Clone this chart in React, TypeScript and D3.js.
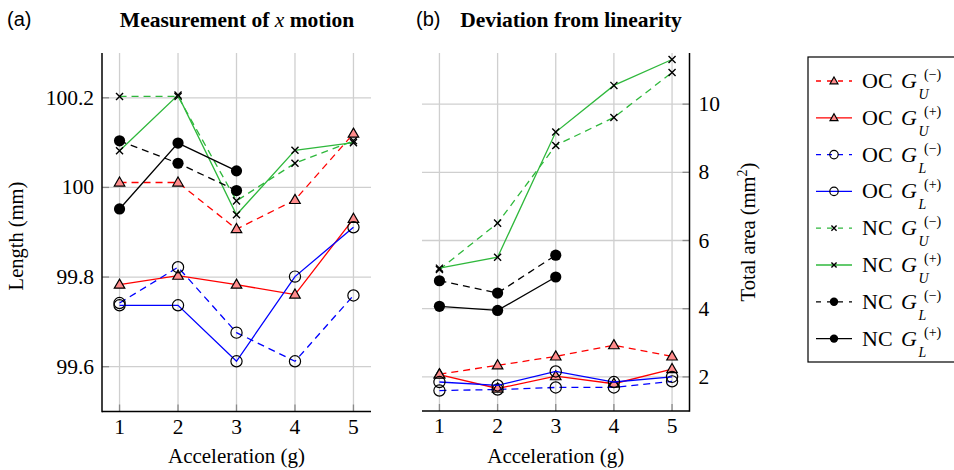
import React from "react";
import * as d3 from "d3";

const accel = [1, 2, 3, 4, 5];
const xTicks = [1, 2, 3, 4, 5];
const leftYTicks = [99.6, 99.8, 100, 100.2];
const rightYTicks = [2, 4, 6, 8, 10];

// Panel (a): Length (mm)
const aOCGUm = [100.011, 100.011, 99.907, 99.972, 100.12];
const aOCGUp = [99.783, 99.803, 99.783, 99.761, 99.93];
const aOCGLm = [99.742, 99.822, 99.676, 99.612, 99.759];
const aOCGLp = [99.737, 99.737, 99.612, 99.801, 99.911];
const aNCGUm = [100.203, 100.203, 99.97, 100.054, 100.104];
const aNCGUp = [100.082, 100.206, 99.939, 100.083, 100.1];
const aNCGLm = [100.104, 100.054, 99.993, null, null];
const aNCGLp = [99.952, 100.099, 100.037, null, null];

// Panel (b): Total area (mm^2)
const bOCGUm = [2.08, 2.34, 2.6, 2.93, 2.6];
const bOCGUp = [2.07, 1.66, 2.02, 1.8, 2.23];
const bOCGLm = [1.6, 1.63, 1.69, 1.69, 1.87];
const bOCGLp = [1.85, 1.75, 2.16, 1.85, 2.0];
const bNCGUm = [5.15, 6.51, 8.79, 9.61, 10.93];
const bNCGUp = [5.19, 5.51, 9.18, 10.55, 11.31];
const bNCGLm = [4.82, 4.46, 5.57, null, null];
const bNCGLp = [4.07, 3.95, 4.93, null, null];

const GREEN = "#2fb83c";
const series = [
  { group: "OC", sub: "U", sup: "(\u2212)", color: "#ff0000", dashed: true, marker: "tri", a: aOCGUm, b: bOCGUm },
  { group: "OC", sub: "U", sup: "(+)", color: "#ff0000", dashed: false, marker: "tri", a: aOCGUp, b: bOCGUp },
  { group: "OC", sub: "L", sup: "(\u2212)", color: "#0000ff", dashed: true, marker: "circ", a: aOCGLm, b: bOCGLm },
  { group: "OC", sub: "L", sup: "(+)", color: "#0000ff", dashed: false, marker: "circ", a: aOCGLp, b: bOCGLp },
  { group: "NC", sub: "U", sup: "(\u2212)", color: GREEN, dashed: true, marker: "x", a: aNCGUm, b: bNCGUm },
  { group: "NC", sub: "U", sup: "(+)", color: GREEN, dashed: false, marker: "x", a: aNCGUp, b: bNCGUp },
  { group: "NC", sub: "L", sup: "(\u2212)", color: "#000000", dashed: true, marker: "dot", a: aNCGLm, b: bNCGLm },
  { group: "NC", sub: "L", sup: "(+)", color: "#000000", dashed: false, marker: "dot", a: aNCGLp, b: bNCGLp },
];

const SERIF = "'Liberation Serif', 'Times New Roman', serif";
const SANS = "'Liberation Sans', Arial, sans-serif";
const GRID = "#cfcfcf";
const TICK = "#8a8a8a";
const DASH = "7,5";

function Marker({ type, x, y, scale = 1 }: { type: string; x: number; y: number; scale?: number }) {
  if (type === "tri") {
    const p = d3.symbol(d3.symbolTriangle, 48 * scale * scale)();
    return <path d={p || ""} transform={`translate(${x},${y + 0.5})`} fill="#ff8c8c" stroke="#000" strokeWidth={1.2} />;
  }
  if (type === "circ") {
    return <circle cx={x} cy={y} r={5.6 * scale} fill="none" stroke="#000" strokeWidth={1.2} />;
  }
  if (type === "x") {
    const p = d3.symbol(d3.symbolX, 34 * scale * scale)();
    return <path d={p || ""} transform={`translate(${x},${y})`} fill="none" stroke="#000" strokeWidth={1.4} />;
  }
  return <circle cx={x} cy={y} r={5.6 * scale} fill="#000" />;
}

function Panel({ xs, ys, key2, yTicks, side }: any) {
  const [x0, x1] = xs.range();
  const [y0, y1] = ys.range(); // y0 bottom, y1 top
  const line = d3
    .line<any>()
    .defined((d: any) => d[1] != null)
    .x((d: any) => xs(d[0]))
    .y((d: any) => ys(d[1]));
  const axisX = side === "left" ? x0 : x1;
  const tickDir = side === "left" ? 1 : -1;
  return (
    <g>
      {xTicks.map((t) => (
        <line key={"gx" + t} x1={xs(t)} x2={xs(t)} y1={y0} y2={y1} stroke={GRID} strokeWidth={1.3} />
      ))}
      {yTicks.map((t: number) => (
        <line key={"gy" + t} x1={x0} x2={x1} y1={ys(t)} y2={ys(t)} stroke={GRID} strokeWidth={1.3} />
      ))}
      {xTicks.map((t) => (
        <line key={"tx" + t} x1={xs(t)} x2={xs(t)} y1={y0} y2={y0 - 7} stroke={TICK} strokeWidth={1.3} />
      ))}
      {yTicks.map((t: number) => (
        <line key={"ty" + t} x1={axisX} x2={axisX + tickDir * 7} y1={ys(t)} y2={ys(t)} stroke={TICK} strokeWidth={1.3} />
      ))}
      {series.map((s, i) => {
        const vals = (s as any)[key2] as (number | null)[];
        const pts = accel.map((a, j) => [a, vals[j]]);
        return (
          <g key={"s" + i}>
            <path d={line(pts as any) || ""} fill="none" stroke={s.color} strokeWidth={1.3} strokeDasharray={s.dashed ? DASH : undefined} />
            {pts
              .filter((p) => p[1] != null)
              .map((p, j) => (
                <Marker key={j} type={s.marker} x={xs(p[0] as number)} y={ys(p[1] as number)} />
              ))}
          </g>
        );
      })}
      <line x1={x0} x2={x1} y1={y0} y2={y0} stroke="#000" strokeWidth={1.5} />
      <line x1={axisX} x2={axisX} y1={y0 + 0.75} y2={y1} stroke="#000" strokeWidth={1.5} />
      {xTicks.map((t) => (
        <text key={"lx" + t} x={xs(t)} y={y0 + 22} textAnchor="middle" fontFamily={SERIF} fontSize={21.5}>
          {t}
        </text>
      ))}
      {yTicks.map((t: number) => (
        <text
          key={"ly" + t}
          x={side === "left" ? axisX - 8 : axisX + 9}
          y={ys(t) + 7}
          textAnchor={side === "left" ? "end" : "start"}
          fontFamily={SERIF}
          fontSize={21.5}
        >
          {side === "left" ? d3.format(".1f")(t).replace(/\.0$/, "") : t}
        </text>
      ))}
      <text x={(x0 + x1) / 2} y={463} textAnchor="middle" fontFamily={SERIF} fontSize={21}>
        Acceleration (g)
      </text>
    </g>
  );
}

export default function App() {
  const xa = d3.scaleLinear().domain([0.7, 5.3]).range([102, 371]);
  const ya = d3.scaleLinear().domain([99.5, 100.3]).range([411.5, 53]);
  const xb = d3.scaleLinear().domain([0.7, 5.3]).range([422, 689.5]);
  const yb = d3.scaleLinear().domain([1, 11.5]).range([411, 53]);

  const legX = 808;
  const legY0 = 81;
  const legStep = 36.8;

  return (
    <svg width={954} height={470} style={{ position: "absolute", left: 0, top: 0 }}>
      <rect x={0} y={0} width={954} height={470} fill="#fff" />
      <text x={7} y={26} fontFamily={SANS} fontSize={20}>(a)</text>
      <text x={237} y={27} textAnchor="middle" fontFamily={SERIF} fontSize={21.5} fontWeight="bold">
        Measurement of <tspan fontStyle="italic" fontWeight="normal">x</tspan> motion
      </text>
      <text x={416} y={26} fontFamily={SANS} fontSize={20}>(b)</text>
      <text x={571} y={27} textAnchor="middle" fontFamily={SERIF} fontSize={21.5} fontWeight="bold">
        Deviation from linearity
      </text>

      <Panel xs={xa} ys={ya} key2="a" yTicks={leftYTicks} side="left" />
      <Panel xs={xb} ys={yb} key2="b" yTicks={rightYTicks} side="right" />

      <text transform="translate(23,236) rotate(-90)" textAnchor="middle" fontFamily={SERIF} fontSize={20.5}>
        Length (mm)
      </text>
      <text transform="translate(755,232) rotate(-90)" textAnchor="middle" fontFamily={SERIF} fontSize={20.5}>
        Total area (mm<tspan fontSize={14} dy={-8}>2</tspan><tspan dy={8}>)</tspan>
      </text>

      <rect x={legX} y={57} width={160} height={305} fill="#fff" stroke="#000" strokeWidth={1.2} />
      {series.map((s, i) => {
        const y = legY0 + i * legStep;
        return (
          <g key={"lg" + i}>
            <line x1={816} x2={852} y1={y} y2={y} stroke={s.color} strokeWidth={1.3} strokeDasharray={s.dashed ? "5,6" : undefined} />
            <Marker type={s.marker} x={834} y={y} scale={0.75} />
            <text x={862} y={y + 7} fontFamily={SERIF} fontSize={22}>
              {s.group}
              <tspan x={901} fontStyle="italic">G</tspan>
            </text>
            <text x={924} y={y - 2} fontFamily={SERIF} fontSize={14}>{s.sup}</text>
            <text x={918.5} y={y + 18} fontFamily={SERIF} fontSize={14} fontStyle="italic">{s.sub}</text>
          </g>
        );
      })}
    </svg>
  );
}
